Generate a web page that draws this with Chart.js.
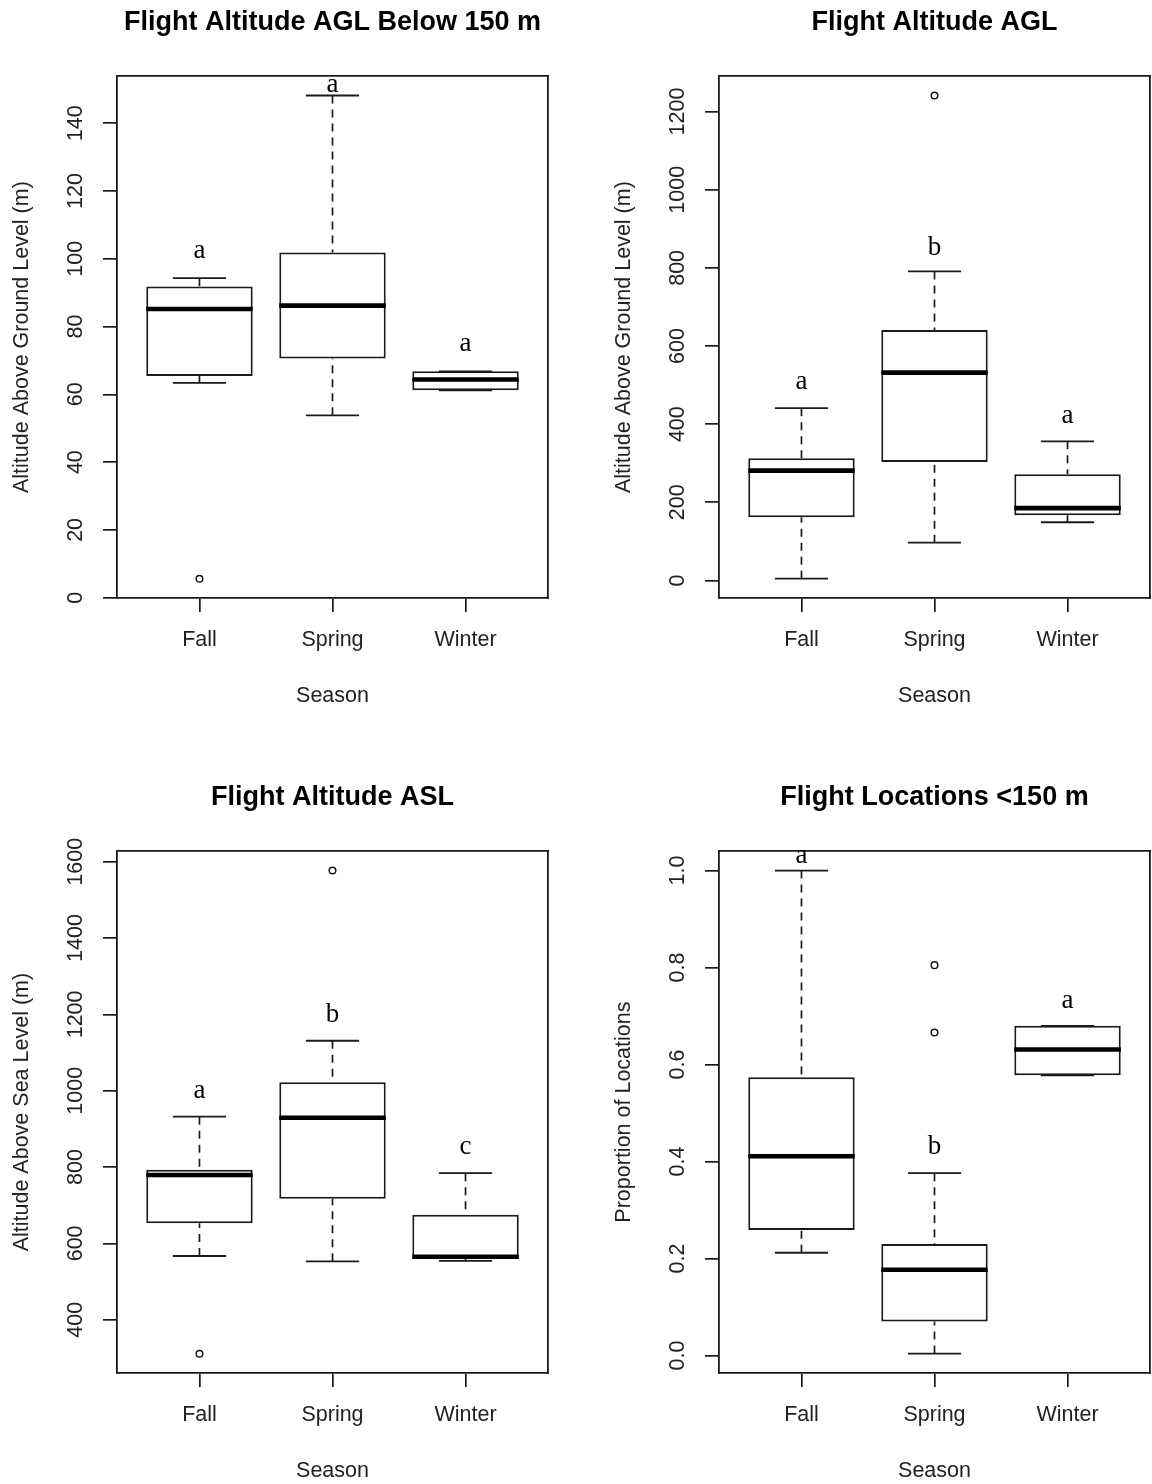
<!DOCTYPE html>
<html>
<head>
<meta charset="utf-8">
<script src="https://cdn.jsdelivr.net/npm/chart.js@4.4.0/dist/chart.umd.min.js"></script>
<style>
  html, body { margin: 0; padding: 0; background: #fff; overflow: hidden; }
  body { width: 1152px; height: 1484px; position: relative; }
  canvas { position: absolute; }
</style>
</head>
<body>
<canvas id="p1" width="665" height="742" style="left:0px;top:0px"></canvas>
<canvas id="p2" width="665" height="742" style="left:602px;top:0px"></canvas>
<canvas id="p3" width="665" height="742" style="left:0px;top:775px"></canvas>
<canvas id="p4" width="665" height="742" style="left:602px;top:775px"></canvas>
<script>
const seasons = ["Fall", "Spring", "Winter"];

// Flight Altitude AGL Below 150 m
const p1Low = [63.4, 53.8, 61.2];
const p1Q1 = [65.4, 70.6, 61.2];
const p1Median = [85.2, 86.2, 64.4];
const p1Q3 = [91.8, 101.9, 66.8];
const p1High = [94.3, 148.2, 66.8];
const p1Outliers = [[5.6], [], []];
const p1Letters = ["a", "a", "a"];
const p1LetterY = [100.1, 149.2, 72.7];
const p1Ticks = [0, 20, 40, 60, 80, 100, 120, 140];
const p1TickLabels = ["0", "20", "40", "60", "80", "100", "120", "140"];
const p1Range = [-0.1, 153.9];

// Flight Altitude AGL
const p2Low = [4.6, 96.7, 149];
const p2Q1 = [162, 303, 167];
const p2Median = [281, 532, 185];
const p2Q3 = [313, 641, 272];
const p2High = [441, 791, 356];
const p2Outliers = [[], [1241], []];
const p2Letters = ["a", "b", "a"];
const p2LetterY = [491, 833, 404];
const p2Ticks = [0, 200, 400, 600, 800, 1000, 1200];
const p2TickLabels = ["0", "200", "400", "600", "800", "1000", "1200"];
const p2Range = [-44.9, 1290.5];

// Flight Altitude ASL
const p3Low = [567, 553, 554];
const p3Q1 = [653, 717, 559];
const p3Median = [779, 929, 565];
const p3Q3 = [793, 1022, 675];
const p3High = [932, 1131, 784];
const p3Outliers = [[311], [1577], []];
const p3Letters = ["a", "b", "c"];
const p3LetterY = [980, 1181, 835];
const p3Ticks = [400, 600, 800, 1000, 1200, 1400, 1600];
const p3TickLabels = ["400", "600", "800", "1000", "1200", "1400", "1600"];
const p3Range = [260.4, 1627.6];

// Flight Locations <150 m
const p4Low = [0.212, 0.004, 0.578];
const p4Q1 = [0.259, 0.070, 0.578];
const p4Median = [0.411, 0.177, 0.631];
const p4Q3 = [0.574, 0.230, 0.680];
const p4High = [1.0, 0.376, 0.680];
const p4Outliers = [[], [0.805, 0.666], []];
const p4Letters = ["a", "b", "a"];
const p4LetterY = [1.016, 0.416, 0.716];
const p4Ticks = [0, 0.2, 0.4, 0.6, 0.8, 1.0];
const p4TickLabels = ["0.0", "0.2", "0.4", "0.6", "0.8", "1.0"];
const p4Range = [-0.036, 1.040];

const INK = "#1a1a1a";
const TXT = "#222";
const SANS = "'Liberation Sans', Arial, sans-serif";
Chart.defaults.font.family = SANS;

const measureCtx = document.createElement("canvas").getContext("2d");
measureCtx.font = "21.5px " + SANS;

function makePanel(id, title, yTitle, low, q1, med, q3, high, outliers, letters, letterY, ticks, tickLabels, range) {
  const medianPts = [], whiskerPts = [], staplePts = [], outlierPts = [];
  seasons.forEach((s, i) => {
    const x = i + 1;
    medianPts.push({ x: x - 0.4, y: med[i] }, { x: x + 0.4, y: med[i] }, { x: x + 0.45, y: null });
    whiskerPts.push({ x: x, y: high[i] }, { x: x, y: q3[i] }, { x: x, y: null },
                    { x: x, y: low[i] }, { x: x, y: q1[i] }, { x: x, y: null });
    staplePts.push({ x: x - 0.2, y: high[i] }, { x: x + 0.2, y: high[i] }, { x: x + 0.25, y: null },
                   { x: x - 0.2, y: low[i] }, { x: x + 0.2, y: low[i] }, { x: x + 0.25, y: null });
    outliers[i].forEach(v => outlierPts.push({ x: x, y: v }));
  });

  // y tick labels are rotated; centre them ~40px left of the frame
  const widest = Math.max(...tickLabels.map(t => measureCtx.measureText(t).width));

  const letterPlugin = {
    id: "letters" + id,
    afterDraw(chart) {
      const { ctx, scales } = chart;
      ctx.save();
      ctx.font = "27px 'Liberation Serif', 'Times New Roman', serif";
      ctx.fillStyle = "#000";
      ctx.textAlign = "center";
      ctx.textBaseline = "alphabetic";
      letters.forEach((l, i) => {
        ctx.fillText(l, scales.x.getPixelForValue(i + 1), scales.y.getPixelForValue(letterY[i]));
      });
      ctx.restore();
    }
  };

  const tickGrid = { display: true, drawOnChartArea: false, drawTicks: true, tickLength: 14, color: INK, lineWidth: 1.7, offset: false };
  const frame = { display: true, color: INK, width: 1.8 };

  new Chart(document.getElementById(id), {
    type: "bar",
    data: {
      datasets: [
        {
          type: "line", data: medianPts, borderColor: "#000", borderWidth: 4.6,
          borderCapStyle: "butt", pointRadius: 0, spanGaps: false, order: 0,
          xAxisID: "x", yAxisID: "y"
        },
        {
          type: "scatter", data: outlierPts, pointStyle: "circle", pointRadius: 3.3,
          borderWidth: 1.5, borderColor: INK, backgroundColor: "#fff", order: 1,
          xAxisID: "x", yAxisID: "y"
        },
        {
          type: "bar", data: seasons.map((s, i) => ({ x: i + 1, y: [q1[i], q3[i]] })),
          backgroundColor: "#fff", borderColor: INK, borderWidth: 2, borderSkipped: false,
          barPercentage: 0.8, categoryPercentage: 1, order: 2,
          xAxisID: "x", yAxisID: "y"
        },
        {
          type: "line", data: whiskerPts, borderColor: INK, borderWidth: 1.7,
          borderDash: [8, 6], pointRadius: 0, spanGaps: false, order: 3,
          xAxisID: "x", yAxisID: "y"
        },
        {
          type: "line", data: staplePts, borderColor: INK, borderWidth: 1.8,
          pointRadius: 0, spanGaps: false, order: 3,
          xAxisID: "x", yAxisID: "y"
        }
      ]
    },
    options: {
      responsive: false,
      animation: false,
      layout: { padding: 0 },
      plugins: {
        legend: { display: false },
        tooltip: { enabled: false },
        title: {
          display: true, text: title, color: "#000",
          font: { size: 27, weight: "bold" },
          padding: { top: 6.8, bottom: 37 }
        }
      },
      scales: {
        x: {
          type: "linear", min: 0.38, max: 3.62, offset: false,
          afterBuildTicks: s => { s.ticks = seasons.map((n, i) => ({ value: i + 1 })); },
          afterFit: s => { s.height = 144; },
          ticks: {
            callback: (v, i) => seasons[i], color: TXT, font: { size: 21.5 },
            padding: 15.6, autoSkip: false, maxRotation: 0
          },
          grid: tickGrid,
          border: frame,
          title: { display: true, text: "Season", color: TXT, font: { size: 21.5 }, padding: { top: 0, bottom: 33.1 } }
        },
        y: {
          type: "linear", min: range[0], max: range[1], beginAtZero: false,
          afterBuildTicks: s => { s.ticks = ticks.map(v => ({ value: v })); },
          afterFit: s => { s.width = 117; },
          ticks: {
            callback: (v, i) => tickLabels[i], color: TXT, font: { size: 21.5 },
            minRotation: 90, maxRotation: 90, crossAlign: "center",
            padding: 40.5 - 14 - widest / 2, autoSkip: false
          },
          grid: tickGrid,
          border: frame,
          title: { display: true, text: yTitle, color: TXT, font: { size: 21.5 }, padding: { top: 9.6, bottom: 0 } }
        },
        xTop: {
          type: "linear", position: "top", display: true,
          ticks: { display: false }, grid: { display: false }, border: frame,
          afterFit: s => { s.height = 0; }
        },
        yRight: {
          type: "linear", position: "right", display: true,
          ticks: { display: false }, grid: { display: false }, border: frame,
          afterFit: s => { s.width = 117; }
        }
      }
    },
    plugins: [letterPlugin]
  });
}

makePanel("p1", "Flight Altitude AGL Below 150 m", "Altitude Above Ground Level (m)",
  p1Low, p1Q1, p1Median, p1Q3, p1High, p1Outliers, p1Letters, p1LetterY, p1Ticks, p1TickLabels, p1Range);
makePanel("p2", "Flight Altitude AGL", "Altitude Above Ground Level (m)",
  p2Low, p2Q1, p2Median, p2Q3, p2High, p2Outliers, p2Letters, p2LetterY, p2Ticks, p2TickLabels, p2Range);
makePanel("p3", "Flight Altitude ASL", "Altitude Above Sea Level (m)",
  p3Low, p3Q1, p3Median, p3Q3, p3High, p3Outliers, p3Letters, p3LetterY, p3Ticks, p3TickLabels, p3Range);
makePanel("p4", "Flight Locations <150 m", "Proportion of Locations",
  p4Low, p4Q1, p4Median, p4Q3, p4High, p4Outliers, p4Letters, p4LetterY, p4Ticks, p4TickLabels, p4Range);
</script>
</body>
</html>
